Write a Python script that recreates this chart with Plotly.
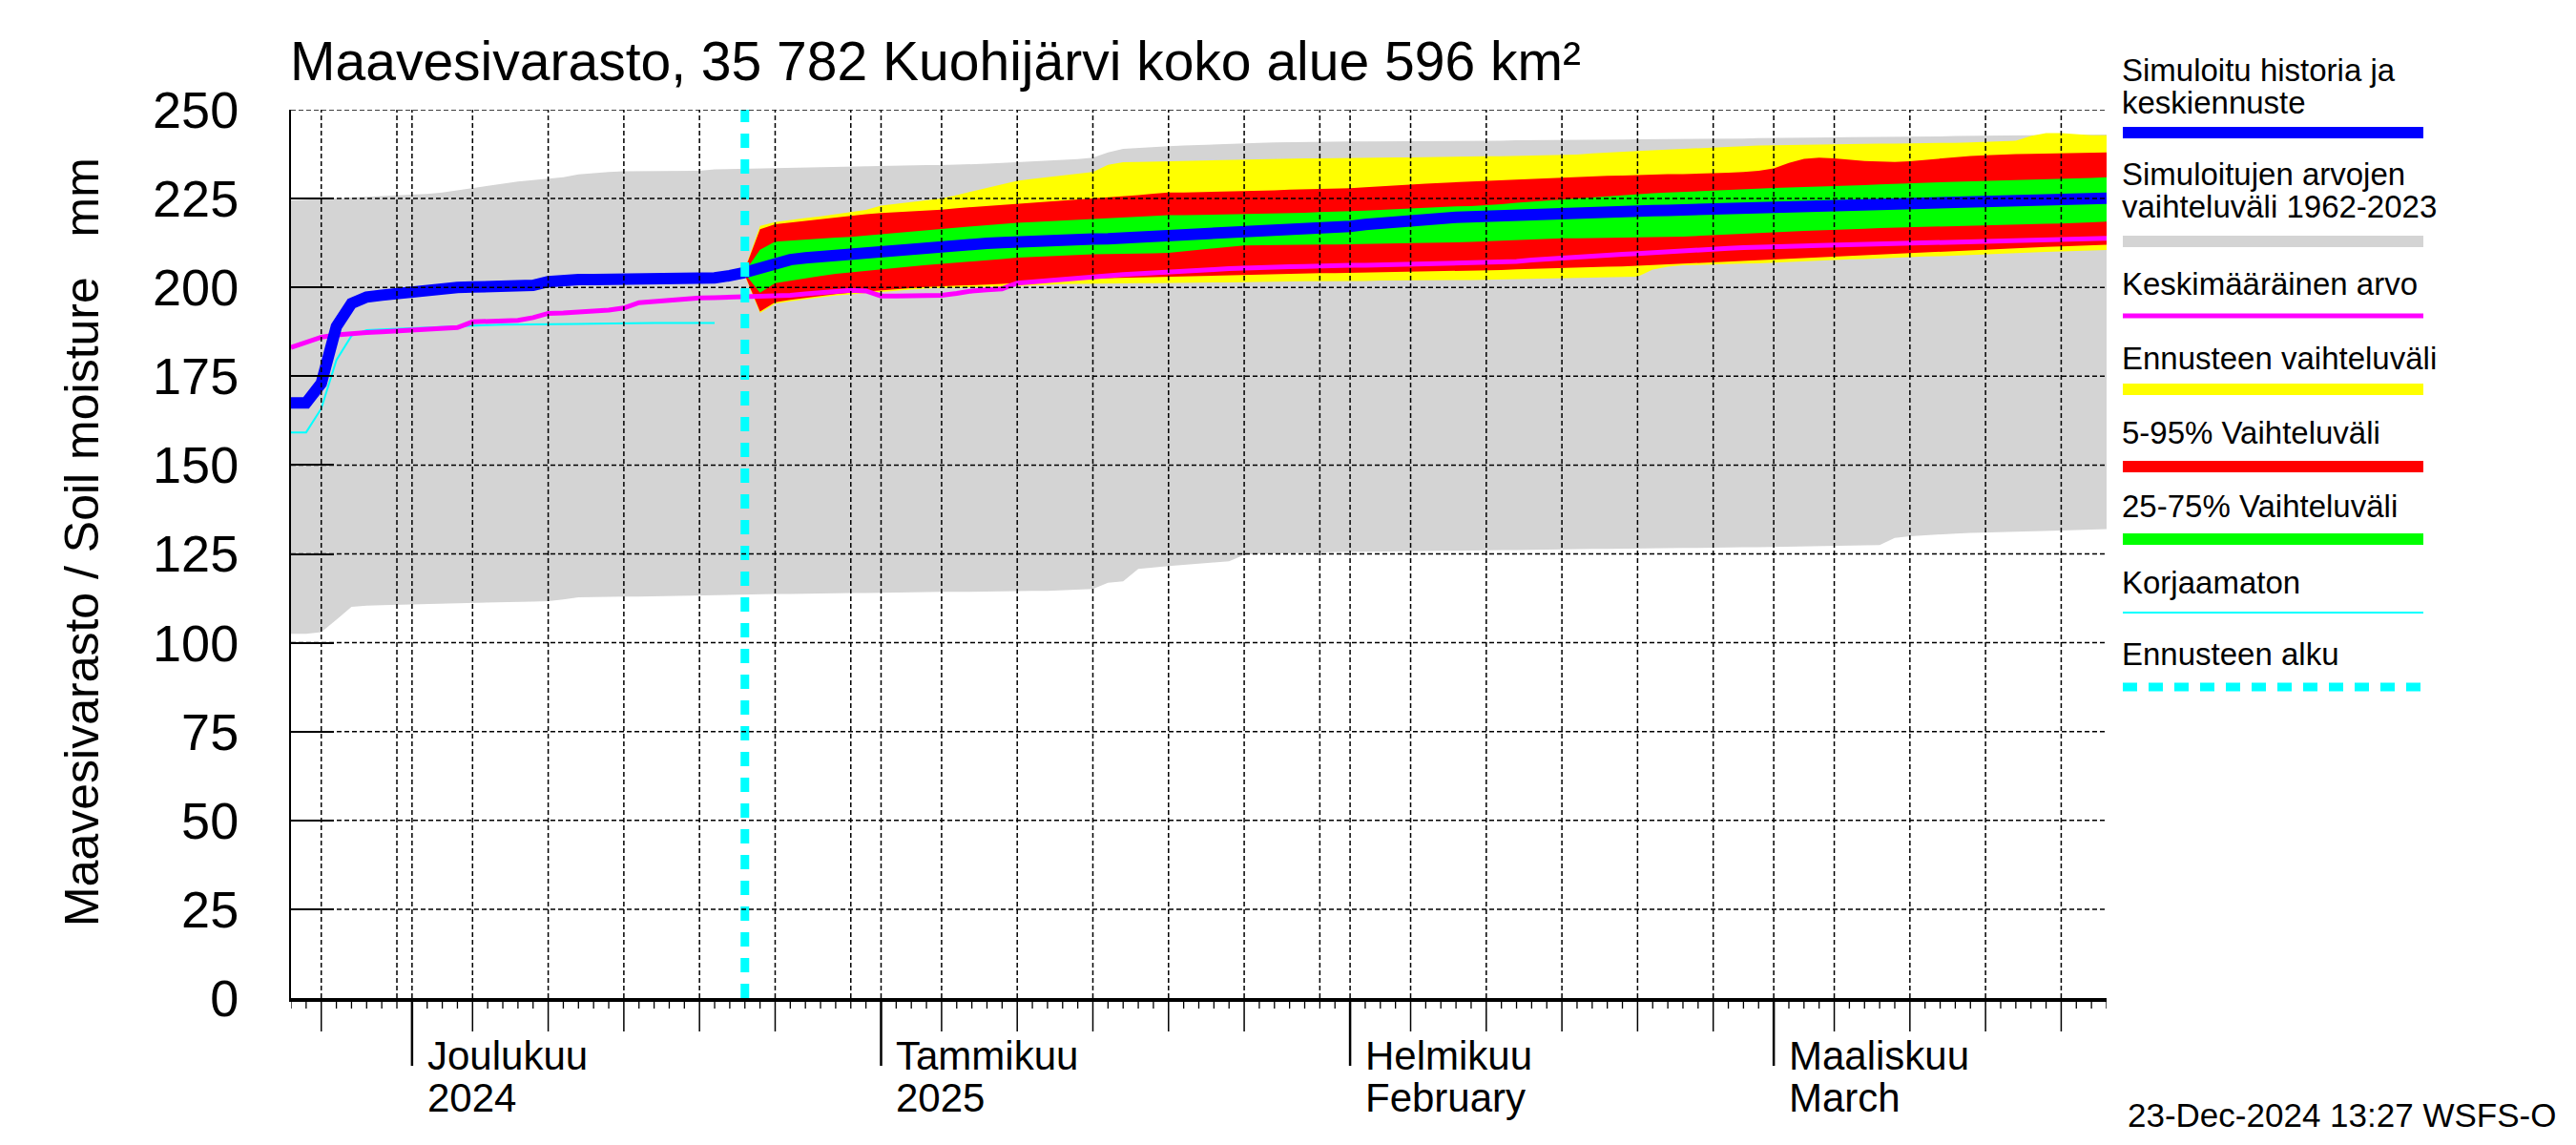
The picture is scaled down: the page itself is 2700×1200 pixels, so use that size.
import pandas as pd
import plotly.graph_objects as go

# ---------------- data ----------------
X_START = "2024-11-23"
X_END = "2025-03-23"
FORECAST_START = "2024-12-23"
Y_RANGE = [0, 250]
Y_TICKS = [0, 25, 50, 75, 100, 125, 150, 175, 200, 225, 250]

full_dates = pd.date_range(X_START, X_END, freq="D")          # 121 days
hist_dates = pd.date_range(X_START, FORECAST_START, freq="D")  # 31 days
raw_dates = pd.date_range(X_START, "2024-12-21", freq="D")     # 29 days
fc_dates = pd.date_range(FORECAST_START, X_END, freq="D")      # 91 days

# historical range 1962-2023 (max / min)
gray_max = [224.5, 224.7, 224.9, 225.1, 225.3, 225.5, 225.6, 225.8,
            225.9, 226.3, 226.7, 227.3, 228.0, 228.7, 229.3, 229.8, 230.2, 230.5,
            231.0, 231.8, 232.2, 232.5, 232.7, 232.7, 232.7, 232.7, 232.7, 232.8,
            233.2, 233.3, 233.4, 233.5, 233.6, 233.7, 233.8, 233.9, 234.0, 234.1, 234.2,
            234.2, 234.3, 234.3, 234.4, 234.4, 234.5, 234.6, 234.8, 235.0, 235.2,
            235.4, 235.6, 235.8, 236.1, 236.5, 238.0, 239.0, 239.3, 239.5, 239.7,
            239.9, 240.1, 240.3, 240.5, 240.6, 240.7, 240.8, 240.9, 241.0, 241.0, 241.0,
            241.1, 241.1, 241.1, 241.2, 241.2, 241.2, 241.2, 241.3, 241.3, 241.3,
            241.3, 241.4, 241.4, 241.4, 241.5, 241.5, 241.5, 241.6, 241.6, 241.7,
            241.7, 241.7, 241.8, 241.8, 241.8, 241.9, 241.9, 242.0,
            242.0, 242.1, 242.1, 242.2, 242.2, 242.3, 242.3, 242.4, 242.4, 242.5,
            242.5, 242.5, 242.6, 242.6, 242.7, 242.7, 242.8, 242.8, 242.9, 242.9,
            243.0, 243.0, 243.0]
gray_min = [102.5, 102.5, 103.0, 106.5, 110.1, 110.4, 110.6, 110.8,
            110.9, 111.0, 111.1, 111.2, 111.3, 111.4, 111.5, 111.5, 111.6, 111.7,
            112.2, 112.8, 112.9, 112.9, 113.0, 113.0, 113.1, 113.1, 113.2, 113.3,
            113.4, 113.5, 113.6, 113.6, 113.7, 113.7, 113.7, 113.8, 113.9, 114.0, 114.0,
            114.1, 114.1, 114.2, 114.2, 114.3, 114.3, 114.4, 114.4, 114.5, 114.5,
            114.6, 114.6, 114.7, 114.9, 115.1, 116.9, 117.3, 120.8, 121.2, 121.6,
            122.0, 122.3, 122.6, 122.9, 124.7, 125.0, 125.1, 125.2, 125.3, 125.4, 125.5,
            125.6, 125.6, 125.7, 125.7, 125.8, 125.8, 125.9, 125.9, 126.0, 126.0,
            126.1, 126.1, 126.2, 126.2, 126.3, 126.3, 126.4, 126.4, 126.5, 126.5,
            126.6, 126.6, 126.7, 126.7, 126.8, 126.8, 126.9, 126.9,
            127.0, 127.0, 127.1, 127.1, 127.2, 127.3, 127.4, 127.5, 129.5, 130.0,
            130.3, 130.5, 130.7, 130.9, 131.0, 131.2, 131.3, 131.4, 131.5, 131.6,
            131.7, 131.8, 132.0]
# long-term mean
mean_vals = [183.1, 184.7, 186.0, 186.6, 187.1, 187.3, 187.5, 187.7,
             187.8, 188.0, 188.3, 188.7, 190.3, 190.4, 190.5, 190.7, 191.5, 192.7,
             192.8, 193.0, 193.2, 193.6, 194.2, 195.7, 196.0, 196.4, 196.8, 197.0,
             197.1, 197.2, 197.4, 197.5, 197.6, 197.8, 198.2, 198.6, 199.0, 199.2, 199.0,
             197.6, 197.6, 197.7, 197.7, 197.8, 198.3, 199.0, 199.3, 199.6, 201.2,
             201.6, 202.0, 202.4, 202.7, 203.0, 203.3, 203.6, 203.8, 204.0, 204.1,
             204.5, 204.8, 205.0, 205.3, 205.5, 205.6, 205.7, 205.8, 205.9, 206.1, 206.2,
             206.2, 206.2, 206.3, 206.3, 206.3, 206.4, 206.5, 206.6, 206.7, 206.8,
             207.0, 207.3, 207.7, 208.0, 208.4, 208.6, 208.8, 209.0, 209.3, 209.5,
             209.8, 210.0, 210.3, 210.5, 210.8, 211.0, 211.2, 211.4,
             211.5, 211.6, 211.7, 211.8, 211.9, 212.0, 212.1, 212.2, 212.3, 212.4,
             212.5, 212.6, 212.7, 212.8, 212.9, 213.0, 213.1, 213.2, 213.3, 213.4,
             213.5, 213.6, 213.8]
# simulated history
hist_vals = [167.5, 167.5, 173.0, 189.0, 195.5, 197.3, 197.8, 198.3,
             198.9, 199.5, 199.8, 200.0, 200.1, 200.2, 200.3, 200.4, 200.6, 201.6,
             202.1, 202.2, 202.2, 202.2, 202.2, 202.2, 202.3, 202.3, 202.3, 202.4,
             202.7, 203.3, 204.2]
# uncorrected
raw_vals = [159.2, 159.2, 165.9, 179.5, 186.4, 188.0, 188.2, 188.4,
            188.5, 188.7, 188.9, 189.1, 189.3, 189.4, 189.5, 189.5, 189.6, 189.6,
            189.7, 189.7, 189.8, 189.9, 189.9, 190.0, 190.0, 190.0, 190.0, 190.0, 190.0]
# forecast median and ranges (Dec 23 - Mar 23)
median_vals = [204.2, 205.5, 207.0, 207.8, 208.3, 208.7, 209.0, 209.2, 209.7,
               210.2, 210.5, 210.8, 211.2, 211.5, 211.8, 212.1, 212.4, 212.6, 212.9,
               213.0, 213.2, 213.3, 213.5, 213.6, 213.7, 213.9, 214.0, 214.1, 214.2,
               214.6, 215.0, 215.4, 215.7, 216.0, 216.1, 216.2, 216.4, 216.5, 216.6, 216.9,
               217.2, 217.7, 218.2, 218.6, 219.0, 219.2, 219.4, 219.7, 219.9, 220.1,
               220.3, 220.4, 220.6, 220.8, 220.9, 221.0, 221.1, 221.3, 221.4, 221.5,
               221.6, 221.7, 221.8, 221.8, 221.9, 222.1, 222.3, 222.5,
               222.7, 222.8, 222.9, 223.0, 223.1, 223.2, 223.3, 223.4, 223.5, 223.6,
               223.7, 223.8, 223.9, 224.0, 224.1, 224.2, 224.3, 224.4, 224.5, 224.6,
               224.7, 224.9, 225.1]
green_hi = [204.5, 210.6, 212.9, 213.2, 213.5, 213.7, 214.0, 214.2, 214.6,
            215.0, 215.3, 215.6, 216.0, 216.4, 216.8, 217.2, 217.5, 217.9, 218.2,
            218.4, 218.6, 218.8, 219.0, 219.3, 219.5, 219.7, 219.9, 220.1, 220.3,
            220.3, 220.4, 220.4, 220.5, 220.5, 220.6, 220.7, 220.8, 221.0, 221.2, 221.3,
            221.4, 221.6, 221.8, 222.0, 222.3, 222.4, 222.6, 222.8, 222.9, 223.1,
            223.4, 223.8, 224.1, 224.4, 224.7, 225.0, 225.4, 225.7, 226.0, 226.3,
            226.5, 226.7, 226.9, 227.1, 227.3, 227.5, 227.7, 227.9,
            228.0, 228.1, 228.2, 228.3, 228.4, 228.6, 228.8, 229.0, 229.2, 229.4,
            229.5, 229.6, 229.7, 229.8, 229.9, 230.0, 230.1, 230.3, 230.5, 230.6,
            230.7, 230.8, 231.0]
green_lo = [203.8, 198.5, 201.2, 201.9, 202.6, 203.2, 203.8, 204.3, 204.7,
            205.1, 205.5, 205.9, 206.3, 206.6, 207.0, 207.3, 207.7, 208.0, 208.4,
            208.6, 208.8, 208.9, 209.1, 209.3, 209.4, 209.5, 209.6, 209.6, 209.7,
            210.1, 210.6, 211.0, 211.4, 211.8, 211.9, 211.9, 212.0, 212.0, 212.1, 212.1,
            212.1, 212.2, 212.3, 212.3, 212.4, 212.5, 212.6, 212.7, 212.8, 212.9,
            213.1, 213.3, 213.4, 213.6, 213.8, 213.8, 213.9, 213.9, 214.0, 214.0,
            214.1, 214.2, 214.3, 214.4, 214.5, 214.8, 215.1, 215.3,
            215.5, 215.7, 215.9, 216.0, 216.2, 216.4, 216.5, 216.7, 216.8, 217.0,
            217.1, 217.2, 217.3, 217.4, 217.5, 217.6, 217.7, 217.8, 217.9, 218.0,
            218.1, 218.3, 218.5]
red_hi = [205.0, 216.4, 217.8, 218.3, 218.8, 219.3, 219.8, 220.3, 220.6,
          220.9, 221.1, 221.3, 221.6, 221.9, 222.3, 222.6, 223.0, 223.3, 223.6,
          223.9, 224.2, 224.5, 224.8, 225.1, 225.4, 225.7, 226.0, 226.4, 226.7,
          226.7, 226.8, 226.8, 226.9, 227.0, 227.2, 227.3, 227.5, 227.6, 227.8, 227.8,
          227.9, 228.2, 228.5, 228.7, 229.0, 229.2, 229.4, 229.6, 229.8, 230.0,
          230.2, 230.4, 230.5, 230.7, 230.9, 231.1, 231.2, 231.4, 231.5, 231.7,
          231.8, 231.9, 231.9, 232.0, 232.1, 232.3, 232.5, 232.8,
          233.5, 235.0, 236.2, 236.5, 236.3, 235.9, 235.6, 235.4, 235.3, 235.5,
          235.9, 236.3, 236.7, 237.0, 237.2, 237.4, 237.5, 237.6, 237.7, 237.8,
          237.9, 238.0, 238.0]
red_lo = [203.5, 193.2, 195.8, 196.5, 197.0, 197.6, 198.1, 198.5, 198.9,
          199.2, 199.5, 199.8, 200.1, 200.3, 200.5, 200.7, 200.8, 201.0, 201.2,
          201.5, 201.8, 202.1, 202.4, 202.6, 202.7, 202.8, 202.9, 202.9, 203.0,
          203.1, 203.2, 203.3, 203.4, 203.5, 203.6, 203.7, 203.8, 203.9, 204.0, 204.0,
          204.1, 204.1, 204.2, 204.2, 204.3, 204.4, 204.5, 204.6, 204.7, 204.8,
          204.9, 205.1, 205.2, 205.4, 205.5, 205.6, 205.7, 205.8, 205.9, 206.0,
          206.2, 206.4, 206.6, 206.8, 207.0, 207.1, 207.3, 207.5,
          207.8, 208.0, 208.2, 208.4, 208.6, 208.8, 209.0, 209.2, 209.4, 209.6,
          209.8, 210.0, 210.2, 210.4, 210.6, 210.8, 211.0, 211.2, 211.4, 211.5,
          211.6, 211.8, 212.0]
yellow_hi = [205.2, 217.3, 218.4, 219.0, 219.5, 220.0, 220.6, 221.2, 221.8,
             223.0, 223.5, 224.0, 224.5, 225.0, 226.0, 227.0, 228.0, 229.0, 230.0,
             230.5, 231.0, 231.5, 232.0, 232.5, 234.5, 235.2, 235.3, 235.4, 235.5,
             235.6, 235.7, 235.8, 235.9, 236.1, 236.1, 236.2, 236.2, 236.3, 236.3, 236.4,
             236.4, 236.5, 236.5, 236.6, 236.6, 236.7, 236.7, 236.8, 236.8, 236.9,
             236.9, 237.0, 237.0, 237.1, 237.2, 237.4, 237.7, 238.0, 238.2, 238.4,
             238.6, 238.8, 239.0, 239.3, 239.5, 239.7, 239.8, 239.9,
             240.0, 240.1, 240.2, 240.3, 240.3, 240.4, 240.4, 240.5, 240.5, 240.5,
             240.6, 240.6, 240.7, 240.8, 240.9, 241.0, 241.3, 242.6, 243.4, 243.4,
             243.0, 242.8, 242.8]
yellow_lo = [203.3, 192.8, 195.4, 196.1, 196.7, 197.2, 197.7, 198.1, 198.5,
             198.8, 199.1, 199.4, 199.7, 199.9, 200.0, 200.1, 200.2, 200.2, 200.3,
             200.5, 200.7, 200.9, 201.0, 201.2, 201.2, 201.2, 201.2, 201.2, 201.2,
             201.3, 201.3, 201.4, 201.4, 201.5, 201.5, 201.6, 201.6, 201.7, 201.7, 201.7,
             201.7, 201.8, 201.9, 202.0, 202.1, 202.1, 202.1, 202.1, 202.1, 202.1,
             202.2, 202.3, 202.3, 202.4, 202.5, 202.6, 202.7, 202.8, 202.9, 203.0,
             205.0, 205.8, 206.2, 206.4, 206.5, 206.6, 206.7, 206.8,
             207.0, 207.2, 207.4, 207.5, 207.7, 207.9, 208.0, 208.2, 208.4, 208.5,
             208.7, 208.8, 209.0, 209.2, 209.3, 209.5, 209.7, 209.8, 210.0, 210.1,
             210.2, 210.4, 210.5]

MONTH_LABELS = [("2024-12-01", "Joulukuu", "2024"),
                ("2025-01-01", "Tammikuu", "2025"),
                ("2025-02-01", "Helmikuu", "February"),
                ("2025-03-01", "Maaliskuu", "March")]

TITLE = "Maavesivarasto, 35 782 Kuohijärvi koko alue 596 km²"
Y_TITLE = "Maavesivarasto / Soil moisture\u00a0\u00a0\u00a0mm"
STAMP = "23-Dec-2024 13:27 WSFS-O"

LEGEND = [
    (["Simuloitu historia ja", "keskiennuste"], "#0000ff", 12, "solid"),
    (["Simuloitujen arvojen", "vaihteluväli 1962-2023"], "#d4d4d4", 12, "solid"),
    (["Keskimääräinen arvo"], "#ff00ff", 5, "solid"),
    (["Ennusteen vaihteluväli"], "#ffff00", 12, "solid"),
    (["5-95% Vaihteluväli"], "#ff0000", 12, "solid"),
    (["25-75% Vaihteluväli"], "#00ff00", 12, "solid"),
    (["Korjaamaton"], "#00ffff", 2, "solid"),
    (["Ennusteen alku"], "#00ffff", 9, "15px,12px"),
]

# ---------------- layout geometry (page pixels; body has an 8px margin) ----------------
OFF = 8
W, H = 2700 - 2 * OFF, 1200 - 2 * OFF
L, R, T, B = 305 - OFF, 2208 - OFF, 115 - OFF, 1046 - OFF
FONT = "Liberation Sans, Arial, Helvetica, sans-serif"


def pxx(x):
    return (x - OFF - L) / (R - L)


def pxy(y):
    return (B - (y - OFF)) / (B - T)


fig = go.Figure()


def band(dates, hi, lo, color):
    xs = list(dates) + list(dates)[::-1]
    ys = list(hi) + list(lo)[::-1]
    fig.add_trace(go.Scatter(x=xs, y=ys, fill="toself", fillcolor=color,
                             line=dict(width=0, color=color), mode="lines",
                             hoverinfo="skip", showlegend=False))


band(full_dates, gray_max, gray_min, "#d4d4d4")
band(fc_dates, yellow_hi, yellow_lo, "#ffff00")
band(fc_dates, red_hi, red_lo, "#ff0000")
band(fc_dates, green_hi, green_lo, "#00ff00")

fig.add_trace(go.Scatter(x=raw_dates, y=raw_vals, mode="lines",
                         line=dict(color="#00ffff", width=2), showlegend=False))
fig.add_trace(go.Scatter(x=full_dates, y=mean_vals, mode="lines",
                         line=dict(color="#ff00ff", width=5), showlegend=False))
fig.add_trace(go.Scatter(x=hist_dates, y=hist_vals, mode="lines",
                         line=dict(color="#0000ff", width=12), showlegend=False))
fig.add_trace(go.Scatter(x=fc_dates, y=median_vals, mode="lines",
                         line=dict(color="#0000ff", width=12), showlegend=False))
fig.add_trace(go.Scatter(x=[FORECAST_START, FORECAST_START], y=Y_RANGE, mode="lines",
                         line=dict(color="#00ffff", width=9, dash="15px,12px"),
                         showlegend=False))

shapes = []
GRID = dict(color="black", width=1.5, dash="5px,3px")
# horizontal grid (above traces)
for v in Y_TICKS[1:]:
    shapes.append(dict(type="line", xref="paper", yref="y", x0=0, x1=1, y0=v, y1=v,
                       line=GRID, layer="above"))

# vertical grid and x ticks
days = pd.date_range(X_START, X_END, freq="D")
for d in days:
    ds = d.strftime("%Y-%m-%d")
    if d.day in (1, 5, 10, 15, 20, 25, 30):
        shapes.append(dict(type="line", xref="x", yref="paper", x0=ds, x1=ds, y0=0, y1=1,
                           line=GRID, layer="above"))
    if d.day == 1:
        ln, lw = 71, 2.5
    elif d.day in (5, 10, 15, 20, 25):
        ln, lw = 35, 1.5
    else:
        ln, lw = 11, 1.3
    shapes.append(dict(type="line", xref="x", yref="paper", ysizemode="pixel", yanchor=0,
                       x0=ds, x1=ds, y0=-1, y1=-ln, line=dict(color="black", width=lw),
                       layer="above"))

annotations = []
for ds, l1, l2 in MONTH_LABELS:
    annotations.append(dict(x=ds, xref="x", y=pxy(1106), yref="paper", text=l1,
                            xanchor="left", yanchor="middle", xshift=14, showarrow=False,
                            font=dict(family=FONT, size=42, color="black")))
    annotations.append(dict(x=ds, xref="x", y=pxy(1150), yref="paper", text=l2,
                            xanchor="left", yanchor="middle", xshift=14, showarrow=False,
                            font=dict(family=FONT, size=42, color="black")))

annotations.append(dict(x=pxx(302), y=pxy(64), xref="paper", yref="paper", text=TITLE,
                        xanchor="left", yanchor="middle", showarrow=False,
                        font=dict(family=FONT, size=57, color="black")))
annotations.append(dict(x=pxx(86), y=pxy(568), xref="paper", yref="paper", text=Y_TITLE,
                        textangle=-90, xanchor="center", yanchor="middle", showarrow=False,
                        font=dict(family=FONT, size=50, color="black")))
annotations.append(dict(x=pxx(2680), y=pxy(1168), xref="paper", yref="paper", text=STAMP,
                        xanchor="right", yanchor="middle", showarrow=False, borderpad=0,
                        font=dict(family=FONT, size=35, color="black")))

# custom legend
LEG_X0, LEG_X1 = 2225, 2540
leg_text_y = [[74, 107], [182, 217], [298], [375], [453], [530], [610], [685]]
leg_line_y = [139, 253, 331, 408, 489, 565, 642, 720]
for (lines, color, width, dash), ty, ly in zip(LEGEND, leg_text_y, leg_line_y):
    for txt, yy in zip(lines, ty):
        annotations.append(dict(x=pxx(LEG_X0 - 3), y=pxy(yy), xref="paper", yref="paper",
                                text=txt, xanchor="left", yanchor="middle", showarrow=False,
                                font=dict(family=FONT, size=33, color="black")))
    shapes.append(dict(type="line", xref="paper", yref="paper", x0=pxx(LEG_X0),
                       x1=pxx(LEG_X1), y0=pxy(ly), y1=pxy(ly),
                       line=dict(color=color, width=width, dash=dash)))

fig.update_layout(
    width=W, height=H,
    margin=dict(l=L, r=W - R, t=T, b=H - B, pad=0),
    plot_bgcolor="white", paper_bgcolor="white",
    showlegend=False,
    shapes=shapes, annotations=annotations,
    xaxis=dict(type="date", range=[X_START, X_END], showgrid=False, zeroline=False,
               showticklabels=False, ticks="", showline=True, linecolor="black",
               linewidth=3.5, layer="above traces", fixedrange=True),
    yaxis=dict(range=Y_RANGE, tickvals=Y_TICKS, showgrid=False, zeroline=False,
               ticks="inside", ticklen=45, tickwidth=2, tickcolor="black",
               showline=True, linecolor="black", linewidth=2, layer="above traces",
               ticklabelstandoff=42,
               tickfont=dict(family=FONT, size=54, color="black"), fixedrange=True),
)

fig.write_html("out.html")
